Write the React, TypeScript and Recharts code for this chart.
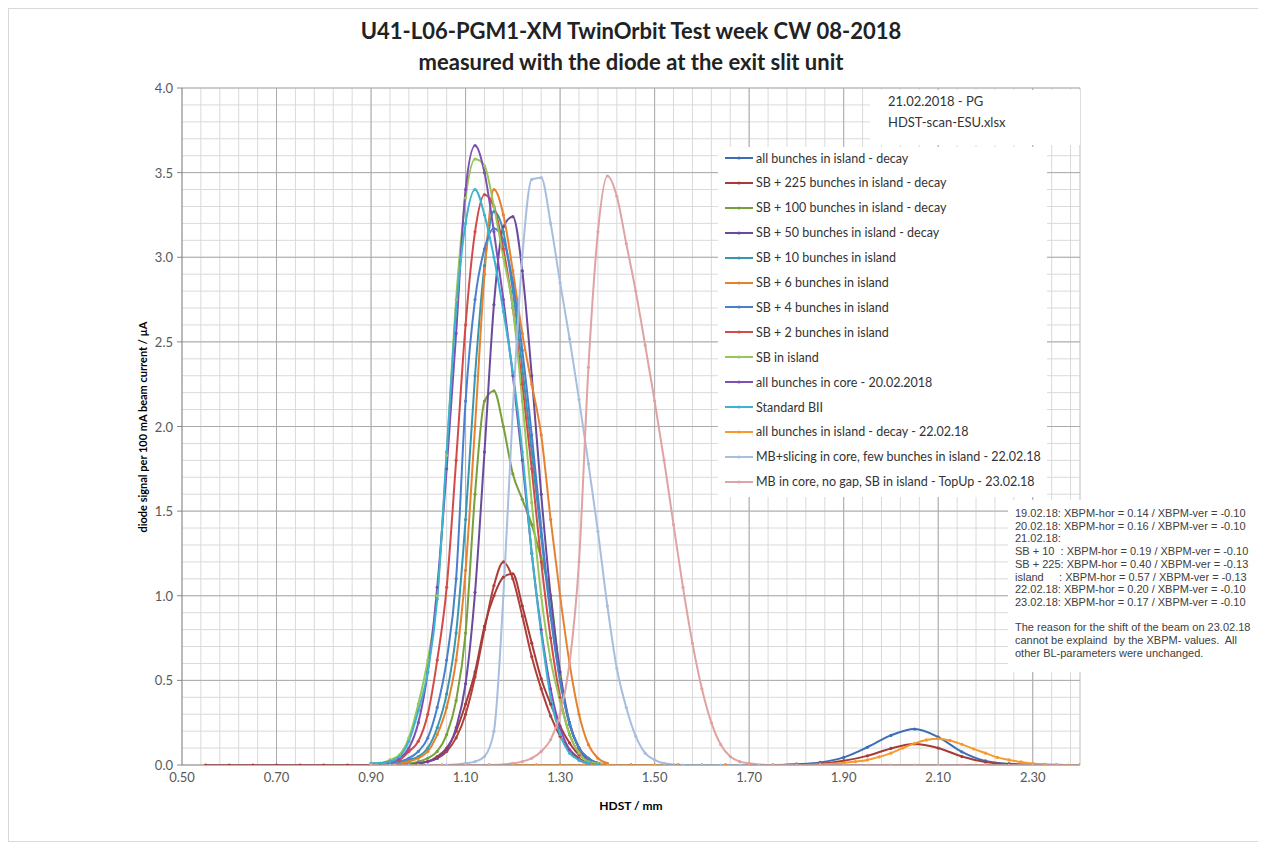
// HDST scan chart: diode signal vs. HDST position
import React from "react";
import {
  LineChart,
  Line,
  XAxis,
  YAxis,
  CartesianGrid,
  ReferenceLine,
} from "recharts";

type Pt = [number, number];

// all bunches in island - decay
const s1: Pt[] = [
  [0.9, 0], [0.95, 0], [1.0, 0], [1.05, 0], [1.1, 0], [1.15, 0], [1.2, 0], [1.25, 0],
  [1.3, 0], [1.35, 0], [1.4, 0], [1.45, 0], [1.5, 0], [1.55, 0], [1.6, 0], [1.65, 0],
  [1.7, 0], [1.75, 0], [1.8, 0.005], [1.85, 0.015], [1.9, 0.045], [1.95, 0.105],
  [2.0, 0.175], [2.05, 0.212], [2.1, 0.165], [2.15, 0.078], [2.2, 0.024], [2.25, 0.007],
  [2.3, 0.002], [2.35, 0], [2.4, 0],
];
// SB + 225 bunches in island - decay
const s2: Pt[] = [
  [0.55, 0], [0.6, 0], [0.65, 0], [0.7, 0], [0.75, 0], [0.8, 0], [0.85, 0], [0.9, 0],
  [0.95, 0], [1.0, 0.01], [1.02, 0.02], [1.04, 0.05], [1.06, 0.1], [1.08, 0.2],
  [1.1, 0.36], [1.12, 0.55], [1.14, 0.82], [1.16, 1.0], [1.18, 1.11], [1.2, 1.13],
  [1.22, 0.94], [1.24, 0.72], [1.26, 0.51], [1.28, 0.36], [1.3, 0.23], [1.32, 0.13],
  [1.34, 0.06], [1.36, 0.03], [1.38, 0.01], [1.4, 0], [1.45, 0], [1.55, 0], [1.65, 0],
  [1.75, 0], [1.85, 0.008], [1.9, 0.025], [1.95, 0.054], [2.0, 0.098], [2.05, 0.124],
  [2.1, 0.1], [2.15, 0.05], [2.2, 0.017], [2.25, 0.005], [2.3, 0.001], [2.35, 0], [2.4, 0],
];
// SB + 225, second scan (not in legend)
const s2b: Pt[] = [
  [1.0, 0.01], [1.02, 0.02], [1.04, 0.04], [1.06, 0.08], [1.08, 0.16], [1.1, 0.3],
  [1.12, 0.52], [1.14, 0.8], [1.16, 1.06], [1.18, 1.2], [1.2, 1.1], [1.22, 0.88],
  [1.24, 0.64], [1.26, 0.45], [1.28, 0.29], [1.3, 0.17], [1.32, 0.09], [1.34, 0.04],
  [1.36, 0.01], [1.38, 0],
];
// SB + 100 bunches in island - decay
const s3: Pt[] = [
  [0.9, 0], [0.92, 0], [0.94, 0], [0.96, 0.01], [0.98, 0.01], [1.0, 0.02], [1.02, 0.04],
  [1.04, 0.08], [1.06, 0.18], [1.08, 0.38], [1.1, 0.78], [1.12, 1.6], [1.14, 2.15],
  [1.16, 2.21], [1.18, 2.0], [1.2, 1.72], [1.22, 1.57], [1.24, 1.42], [1.26, 1.22],
  [1.28, 1.0], [1.3, 0.52], [1.32, 0.24], [1.34, 0.1], [1.36, 0.03], [1.38, 0.01], [1.4, 0],
];
// SB + 50 bunches in island - decay
const s4: Pt[] = [
  [0.9, 0], [0.94, 0], [0.98, 0], [1.0, 0.01], [1.02, 0.02], [1.04, 0.04], [1.06, 0.09],
  [1.08, 0.22], [1.1, 0.48], [1.12, 1.02], [1.14, 1.85], [1.16, 2.72], [1.18, 3.18],
  [1.2, 3.24], [1.22, 2.92], [1.24, 2.3], [1.26, 1.6], [1.28, 1.0], [1.3, 0.55],
  [1.32, 0.25], [1.34, 0.1], [1.36, 0.03], [1.38, 0.01], [1.4, 0],
];
// SB + 10 bunches in island
const s5: Pt[] = [
  [0.9, 0], [0.92, 0], [0.94, 0], [0.96, 0.01], [0.98, 0.03], [1.0, 0.05], [1.02, 0.1],
  [1.04, 0.22], [1.06, 0.42], [1.08, 0.78], [1.1, 1.45], [1.12, 2.3], [1.14, 2.95],
  [1.16, 3.27], [1.18, 3.15], [1.2, 2.8], [1.22, 2.35], [1.24, 1.85], [1.26, 1.35],
  [1.28, 0.88], [1.3, 0.5], [1.32, 0.24], [1.34, 0.1], [1.36, 0.04], [1.38, 0.01], [1.4, 0],
];
// SB + 6 bunches in island
const s6: Pt[] = [
  [0.9, 0], [0.92, 0], [0.94, 0], [0.96, 0.01], [0.98, 0.02], [1.0, 0.04], [1.02, 0.08],
  [1.04, 0.18], [1.06, 0.34], [1.08, 0.62], [1.1, 1.15], [1.12, 2.0], [1.14, 2.9],
  [1.16, 3.4], [1.18, 3.25], [1.2, 2.92], [1.22, 2.55], [1.24, 2.25], [1.26, 1.95],
  [1.28, 1.45], [1.3, 1.0], [1.32, 0.6], [1.34, 0.3], [1.36, 0.12], [1.38, 0.04], [1.4, 0.01],
];
// SB + 4 bunches in island
const s7: Pt[] = [
  [0.9, 0], [0.92, 0], [0.94, 0.01], [0.96, 0.02], [0.98, 0.04], [1.0, 0.08], [1.02, 0.16],
  [1.04, 0.34], [1.06, 0.62], [1.08, 1.1], [1.1, 2.15], [1.12, 2.75], [1.14, 3.05],
  [1.16, 3.17], [1.18, 3.1], [1.2, 2.85], [1.22, 2.45], [1.24, 1.95], [1.26, 1.4],
  [1.28, 0.9], [1.3, 0.5], [1.32, 0.25], [1.34, 0.1], [1.36, 0.04], [1.38, 0.01], [1.4, 0],
];
// SB + 2 bunches in island
const s8: Pt[] = [
  [0.9, 0], [0.92, 0.01], [0.94, 0.02], [0.96, 0.03], [0.98, 0.08], [1.0, 0.14],
  [1.02, 0.3], [1.04, 0.62], [1.06, 1.05], [1.08, 1.8], [1.1, 2.6], [1.12, 3.15],
  [1.14, 3.37], [1.16, 3.3], [1.18, 3.05], [1.2, 2.7], [1.22, 2.25], [1.24, 1.75],
  [1.26, 1.2], [1.28, 0.75], [1.3, 0.4], [1.32, 0.18], [1.34, 0.07], [1.36, 0.02], [1.38, 0], [1.4, 0],
];
// SB in island
const s9: Pt[] = [
  [0.9, 0.01], [0.92, 0.01], [0.94, 0.03], [0.96, 0.06], [0.98, 0.16], [1.0, 0.36],
  [1.02, 0.62], [1.04, 1.0], [1.06, 1.83], [1.08, 2.75], [1.1, 3.35], [1.12, 3.58],
  [1.14, 3.54], [1.16, 3.3], [1.18, 3.0], [1.2, 2.7], [1.22, 2.15], [1.24, 1.55],
  [1.26, 1.0], [1.28, 0.62], [1.3, 0.38], [1.32, 0.18], [1.34, 0.07], [1.36, 0.02], [1.38, 0.01], [1.4, 0],
];
// all bunches in core - 20.02.2018
const s10: Pt[] = [
  [0.9, 0], [0.92, 0.01], [0.94, 0.02], [0.96, 0.04], [0.98, 0.1], [1.0, 0.25],
  [1.02, 0.55], [1.04, 1.05], [1.06, 1.75], [1.08, 2.55], [1.1, 3.4], [1.12, 3.66],
  [1.14, 3.5], [1.16, 3.15], [1.18, 2.75], [1.2, 2.3], [1.22, 1.8], [1.24, 1.25],
  [1.26, 0.8], [1.28, 0.45], [1.3, 0.22], [1.32, 0.09], [1.34, 0.03], [1.36, 0.01], [1.38, 0],
];
// Standard BII
const s11: Pt[] = [
  [0.9, 0.01], [0.92, 0.01], [0.94, 0.02], [0.96, 0.05], [0.98, 0.14], [1.0, 0.32],
  [1.02, 0.55], [1.04, 0.98], [1.06, 1.85], [1.08, 2.69], [1.1, 3.2], [1.12, 3.4],
  [1.14, 3.25], [1.16, 3.0], [1.18, 2.68], [1.2, 2.32], [1.22, 1.85], [1.24, 1.25],
  [1.26, 0.78], [1.28, 0.4], [1.3, 0.18], [1.32, 0.07], [1.34, 0.03], [1.36, 0.01], [1.38, 0], [1.4, 0],
];
// all bunches in island - decay - 22.02.18
const s12: Pt[] = [
  [0.9, 0], [0.95, 0], [1.0, 0], [1.05, 0], [1.1, 0], [1.15, 0], [1.2, 0], [1.25, 0],
  [1.3, 0], [1.35, 0], [1.4, 0], [1.45, 0], [1.5, 0], [1.55, 0], [1.6, 0], [1.65, 0],
  [1.7, 0], [1.75, 0], [1.8, 0], [1.85, 0.005], [1.9, 0.012], [1.925, 0.02], [1.95, 0.03],
  [1.975, 0.048], [2.0, 0.07], [2.025, 0.1], [2.05, 0.128], [2.075, 0.148], [2.1, 0.155],
  [2.125, 0.145], [2.15, 0.122], [2.175, 0.095], [2.2, 0.07], [2.225, 0.045], [2.25, 0.03],
  [2.275, 0.018], [2.3, 0.009], [2.325, 0.004], [2.35, 0.002], [2.375, 0], [2.4, 0],
];
// MB+slicing in core, few bunches in island - 22.02.18
const s13: Pt[] = [
  [0.9, 0], [0.94, 0], [0.98, 0], [1.02, 0], [1.06, 0], [1.1, 0.01], [1.12, 0.02],
  [1.14, 0.05], [1.16, 0.2], [1.18, 1.0], [1.2, 2.1], [1.22, 3.0], [1.24, 3.46],
  [1.26, 3.47], [1.28, 3.2], [1.3, 2.85], [1.32, 2.52], [1.34, 2.16], [1.36, 1.78],
  [1.38, 1.38], [1.4, 0.94], [1.42, 0.57], [1.44, 0.34], [1.46, 0.17], [1.48, 0.07],
  [1.5, 0.03], [1.52, 0.01], [1.56, 0], [1.6, 0], [1.64, 0], [1.68, 0], [1.72, 0],
];
// MB in core, no gap, SB in island - TopUp - 23.02.18
const s14: Pt[] = [
  [0.9, 0], [0.95, 0], [1.0, 0], [1.05, 0], [1.1, 0], [1.15, 0], [1.2, 0.01], [1.22, 0.02],
  [1.24, 0.04], [1.26, 0.08], [1.28, 0.15], [1.3, 0.3], [1.32, 0.6], [1.34, 1.2],
  [1.36, 2.35], [1.38, 3.15], [1.4, 3.48], [1.42, 3.36], [1.44, 3.08], [1.46, 2.8],
  [1.48, 2.48], [1.5, 2.15], [1.52, 1.8], [1.54, 1.42], [1.56, 1.05], [1.58, 0.72],
  [1.6, 0.45], [1.62, 0.25], [1.64, 0.12], [1.66, 0.05], [1.68, 0.02], [1.7, 0.01],
  [1.75, 0], [1.8, 0], [1.85, 0], [1.9, 0], [1.95, 0], [2.0, 0], [2.05, 0], [2.1, 0],
  [2.15, 0], [2.2, 0], [2.25, 0], [2.3, 0], [2.35, 0], [2.4, 0],
];

const seriesNames = [
  "all bunches in island - decay",
  "SB + 225 bunches in island - decay",
  "SB + 100 bunches in island - decay",
  "SB + 50 bunches in island - decay",
  "SB + 10 bunches in island",
  "SB + 6 bunches in island",
  "SB + 4 bunches in island",
  "SB + 2 bunches in island",
  "SB in island",
  "all bunches in core - 20.02.2018",
  "Standard BII",
  "all bunches in island - decay - 22.02.18",
  "MB+slicing in core, few bunches in island - 22.02.18",
  "MB in core, no gap, SB in island - TopUp - 23.02.18",
];
const seriesColors = [
  "#3C6EB4", "#A83B38", "#77A03B", "#6A4A9C", "#3796B0", "#E6822F", "#4A7FCC",
  "#D24B48", "#98C759", "#7E4FB5", "#3CB4D0", "#F79A2E", "#A7BEDF", "#DFA3A3",
];
const seriesPoints = [s1, s2, s3, s4, s5, s6, s7, s8, s9, s10, s11, s12, s13, s14];

const xMajorTicks = [0.5, 0.7, 0.9, 1.1, 1.3, 1.5, 1.7, 1.9, 2.1, 2.3];
const yMajorTicks = [0, 0.5, 1.0, 1.5, 2.0, 2.5, 3.0, 3.5, 4.0];

const notes = [
  "19.02.18: XBPM-hor = 0.14 / XBPM-ver = -0.10",
  "20.02.18: XBPM-hor = 0.16 / XBPM-ver = -0.10",
  "21.02.18:",
  "SB + 10  : XBPM-hor = 0.19 / XBPM-ver = -0.10",
  "SB + 225: XBPM-hor = 0.40 / XBPM-ver = -0.13",
  "island     : XBPM-hor = 0.57 / XBPM-ver = -0.13",
  "22.02.18: XBPM-hor = 0.20 / XBPM-ver = -0.10",
  "23.02.18: XBPM-hor = 0.17 / XBPM-ver = -0.10",
  "",
  "The reason for the shift of the beam on 23.02.18",
  "cannot be explaind  by the XBPM- values.  All",
  "other BL-parameters were unchanged.",
];

// minor grid positions
const xGrid: number[] = [];
for (let i = 0; i <= 47; i++) xGrid.push(Number((0.5 + i * 0.04).toFixed(2)));
const yGrid: number[] = [];
for (let i = 0; i <= 40; i++) yGrid.push(Number((i * 0.1).toFixed(1)));

const isMajor = (v: number, list: number[]) => list.some((m) => Math.abs(m - v) < 1e-6);

const FONT = "Lato, 'Open Sans', sans-serif";

const XTick = (props: any) => {
  const { x, y, payload } = props;
  if (!isMajor(payload.value, xMajorTicks)) return <g />;
  return (
    <text x={x} y={y + 12} textAnchor="middle" dominantBaseline="central" fill="#595959" fontSize={13} fontFamily={FONT}>
      {payload.value.toFixed(2)}
    </text>
  );
};

const YTick = (props: any) => {
  const { x, y, payload } = props;
  if (!isMajor(payload.value, yMajorTicks)) return <g />;
  return (
    <g>
      <line x1={x - 5} x2={x} y1={y} y2={y} stroke="#868686" />
      <text x={x - 9} y={y} textAnchor="end" dominantBaseline="central" fill="#595959" fontSize={13} fontFamily={FONT}>
        {payload.value.toFixed(1)}
      </text>
    </g>
  );
};

export default function App() {
  const series = seriesPoints.map((pts, i) => ({
    name: seriesNames[i],
    color: seriesColors[i],
    data: pts.map(([x, y]) => ({ x, y })),
  }));
  const extra = s2b.map(([x, y]) => ({ x, y }));

  return (
    <div style={{ position: "relative", width: 1253, height: 832, border: "1px solid #D9D9D9", background: "#fff", fontFamily: FONT }}>
      <div style={{ position: "absolute", left: 173, width: 898, top: 6, textAlign: "center", fontWeight: 700, fontSize: 22, lineHeight: "31px", color: "#222" }}>
        U41-L06-PGM1-XM TwinOrbit Test week CW 08-2018
        <br />
        measured with the diode at the exit slit unit
      </div>

      <LineChart width={1253} height={832} margin={{ top: 79, right: 182, bottom: 46, left: 113 }}>
        <CartesianGrid stroke="#DADADA" />
        <XAxis
          dataKey="x"
          type="number"
          domain={[0.5, 2.4]}
          ticks={xGrid}
          interval={0}
          allowDataOverflow
          tick={<XTick />}
          tickLine={false}
          tickSize={0}
          tickMargin={0}
          axisLine={{ stroke: "#868686" }}
          height={30}
        />
        <YAxis
          type="number"
          domain={[0, 4]}
          ticks={yGrid}
          interval={0}
          allowDataOverflow
          tick={<YTick />}
          tickLine={false}
          tickSize={0}
          tickMargin={0}
          axisLine={{ stroke: "#868686" }}
          width={60}
        />
        {xMajorTicks.slice(1).map((v) => (
          <ReferenceLine key={"xm" + v} x={v} stroke="#ABABAB" />
        ))}
        <ReferenceLine x={2.4} stroke="#CFCFCF" />
        {yMajorTicks.slice(1).map((v) => (
          <ReferenceLine key={"ym" + v} y={v} stroke="#ABABAB" />
        ))}
        <Line
          data={extra}
          dataKey="y"
          type="monotone"
          stroke="#B0403C"
          strokeWidth={2}
          dot={{ r: 1.6, fill: "#B0403C", stroke: "#B0403C", strokeWidth: 0 }}
          activeDot={false}
          isAnimationActive={false}
          legendType="none"
        />
        {series.map((s) => (
          <Line
            key={s.name}
            data={s.data}
            dataKey="y"
            name={s.name}
            type="monotone"
            stroke={s.color}
            strokeWidth={2}
            dot={{ r: 1.6, fill: s.color, stroke: s.color, strokeWidth: 0 }}
            activeDot={false}
            isAnimationActive={false}
          />
        ))}
      </LineChart>

      {/* axis titles */}
      <div style={{ position: "absolute", left: 522, width: 200, top: 788, textAlign: "center", fontWeight: 700, fontSize: 12, lineHeight: "18px", color: "#000" }}>
        HDST / mm
      </div>
      <div style={{ position: "absolute", left: 134 - 200, top: 418 - 9, width: 400, textAlign: "center", fontWeight: 700, fontSize: 11, lineHeight: "18px", color: "#000", transform: "rotate(-90deg)" }}>
        diode signal per 100 mA beam current / µA
      </div>

      {/* file note */}
      <div style={{ position: "absolute", left: 861, top: 81, width: 210, height: 55, background: "#fff", fontSize: 13, color: "#333" }}>
        <div style={{ position: "absolute", left: 18, top: 2, lineHeight: "18px" }}>21.02.2018 - PG</div>
        <div style={{ position: "absolute", left: 18, top: 23, lineHeight: "18px" }}>HDST-scan-ESU.xlsx</div>
      </div>

      {/* legend */}
      <div style={{ position: "absolute", left: 709, top: 138, width: 329, height: 350, background: "#fff" }}>
        {series.map((s, i) => (
          <div key={s.name} style={{ position: "absolute", left: 7, top: 11 + i * 24.9 - 9, height: 18, display: "flex", alignItems: "center", whiteSpace: "nowrap" }}>
            <svg width={28} height={6} style={{ marginRight: 3 }}>
              <line x1={0} x2={28} y1={3} y2={3} stroke={s.color} strokeWidth={2} />
              <circle cx={14} cy={3} r={1.6} fill={s.color} />
            </svg>
            <span style={{ fontSize: 12.5, color: "#333" }}>{s.name}</span>
          </div>
        ))}
      </div>

      {/* XBPM notes */}
      <div style={{ position: "absolute", left: 999, top: 491, width: 254, height: 172, background: "#fff" }}>
        {notes.map((t, i) => (
          <div key={i} style={{ position: "absolute", left: 7, top: 13 + i * 12.7 - 7, lineHeight: "14px", whiteSpace: "pre", fontFamily: "'Liberation Sans', Arial, sans-serif", fontSize: 11, color: "#404040" }}>
            {t}
          </div>
        ))}
      </div>
    </div>
  );
}
